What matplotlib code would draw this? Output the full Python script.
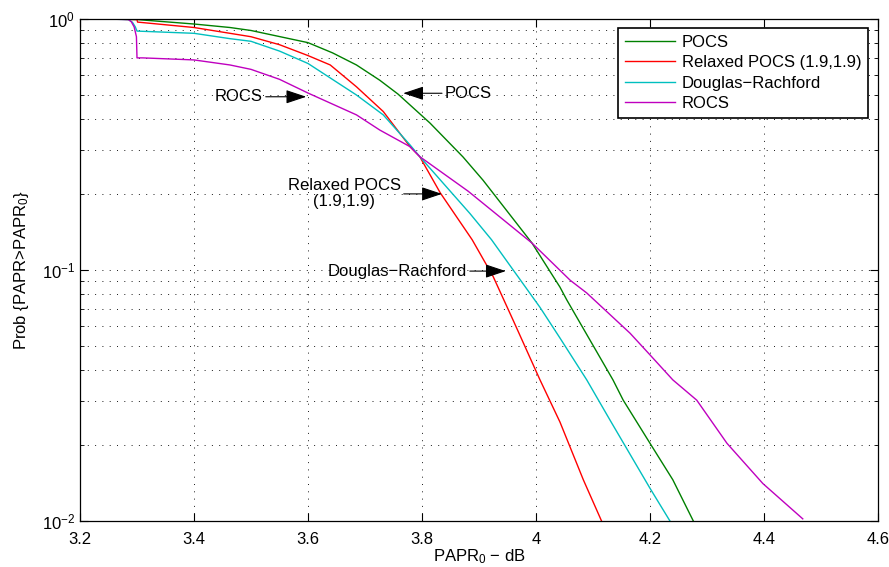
import numpy as np
import matplotlib
matplotlib.use("Agg")
import matplotlib.pyplot as plt
from matplotlib.ticker import LogLocator, FixedLocator

plt.rcParams['font.family'] = ['Liberation Sans', 'DejaVu Sans']
plt.rcParams['mathtext.fontset'] = 'custom'
plt.rcParams['mathtext.rm'] = 'Liberation Sans'
plt.rcParams['mathtext.it'] = 'Liberation Sans'

# --- data (PAPR0 in dB, CCDF) ---
pocs_x = [3.24, 3.30, 3.40, 3.463, 3.50, 3.60, 3.643, 3.685, 3.726, 3.758, 3.814,
          3.872, 3.907, 3.993, 4.042, 4.054, 4.135, 4.153, 4.20, 4.24, 4.276]
pocs_p = [1.0, 0.995, 0.955, 0.925, 0.90, 0.805, 0.733, 0.656, 0.57, 0.502, 0.385,
          0.282, 0.228, 0.128, 0.0855, 0.076, 0.0365, 0.0303, 0.0204, 0.0146, 0.0100]

rpocs_x = [3.24, 3.30, 3.301, 3.40, 3.463, 3.50, 3.55, 3.60, 3.639, 3.685, 3.732,
           3.779, 3.796, 3.832, 3.888, 3.925, 3.96, 4.007, 4.042, 4.083, 4.115]
rpocs_p = [1.0, 0.995, 0.972, 0.925, 0.877, 0.85, 0.79, 0.715, 0.656, 0.537, 0.428,
           0.31, 0.283, 0.203, 0.132, 0.094, 0.063, 0.0365, 0.0248, 0.0146, 0.0100]

dr_x = [3.24, 3.285, 3.292, 3.297, 3.30, 3.40, 3.463, 3.50, 3.55, 3.60, 3.685,
        3.732, 3.779, 3.796, 3.884, 3.922, 3.96, 4.007, 4.042, 4.089, 4.13, 4.20, 4.235]
dr_p = [1.0, 0.995, 0.97, 0.93, 0.895, 0.877, 0.835, 0.815, 0.745, 0.665, 0.498,
        0.415, 0.315, 0.283, 0.168, 0.132, 0.10, 0.071, 0.0536, 0.0365, 0.0252,
        0.0135, 0.0100]

rocs_x = [3.24, 3.285, 3.29, 3.295, 3.299, 3.30, 3.31, 3.40, 3.463, 3.50, 3.55,
          3.60, 3.685, 3.726, 3.779, 3.796, 3.881, 3.993, 4.06, 4.089, 4.165, 4.20,
          4.24, 4.282, 4.335, 4.398, 4.468]
rocs_p = [1.0, 0.995, 0.975, 0.93, 0.85, 0.70, 0.70, 0.687, 0.656, 0.63, 0.575,
          0.507, 0.415, 0.361, 0.31, 0.283, 0.206, 0.128, 0.091, 0.081, 0.056, 0.0459,
          0.0365, 0.0303, 0.0204, 0.0141, 0.0102]

labels = ['POCS', 'Relaxed POCS (1.9,1.9)', 'Douglas\u2212Rachford', 'ROCS']
colors = ['#008000', '#ff0000', '#00bfbf', '#bf00bf']
x_ticks = [3.2, 3.4, 3.6, 3.8, 4.0, 4.2, 4.4, 4.6]
x_tick_labels = ['3.2', '3.4', '3.6', '3.8', '4', '4.2', '4.4', '4.6']

fig = plt.figure(figsize=(8.89, 5.67), dpi=100)
ax = fig.add_axes([80 / 889, 46 / 567, 798 / 889, 502 / 567])

series = [(pocs_x, pocs_p), (rpocs_x, rpocs_p), (dr_x, dr_p), (rocs_x, rocs_p)]
for (xs, ps), lab, c in zip(series, labels, colors):
    ax.plot(xs, ps, color=c, lw=1.0, label=lab)

ax.set_yscale('log')
ax.set_xlim(3.2, 4.6)
ax.set_ylim(1e-2, 1)
ax.xaxis.set_major_locator(FixedLocator(x_ticks))
ax.set_xticklabels(x_tick_labels)
ax.yaxis.set_major_locator(LogLocator(base=10, numticks=5))
ax.yaxis.set_minor_locator(LogLocator(base=10, subs=np.arange(2, 10), numticks=20))
ax.yaxis.set_minor_formatter(plt.NullFormatter())

# MATLAB-like dotted grid
grid_kw = dict(color='0.15', lw=0.72, linestyle=(0, (1, 6.3)))
ax.grid(True, which='major', axis='both', **grid_kw)
ax.grid(True, which='minor', axis='y', **grid_kw)

ax.tick_params(which='both', direction='in', top=True, right=True, labelsize=12)
ax.tick_params(which='major', length=6, width=0.8)
ax.tick_params(which='minor', length=3, width=0.6)
ax.tick_params(axis='x', which='major', pad=8)
for s in ax.spines.values():
    s.set_linewidth(0.9)

ax.set_xlabel('PAPR$_0$ \u2212 dB', fontsize=12, labelpad=0)
ax.set_ylabel('Prob {PAPR>PAPR$_0$}', fontsize=12, labelpad=8)

leg = ax.legend(loc='upper right', bbox_to_anchor=(0.9875, 0.982), borderaxespad=0,
                fontsize=12, handlelength=3.0, handletextpad=0.4, labelspacing=0.33,
                borderpad=0.4, fancybox=False, framealpha=1, edgecolor='k')
leg.get_frame().set_linewidth(1.2)

arrow = dict(arrowstyle='-|>,head_length=0.9,head_width=0.3', color='k', lw=0.8,
             mutation_scale=14, shrinkA=0, shrinkB=0)
ax.annotate('ROCS', xy=(3.597, 0.49), xytext=(3.521, 0.49), ha='right', va='center',
            fontsize=12, arrowprops=arrow)
ax.annotate('POCS', xy=(3.767, 0.506), xytext=(3.840, 0.506), ha='left', va='center',
            fontsize=12, arrowprops=arrow)
ax.annotate('Relaxed POCS\n(1.9,1.9)', xy=(3.835, 0.201), xytext=(3.763, 0.201),
            ha='right', va='center', multialignment='center', fontsize=12,
            linespacing=1.1, arrowprops=arrow)
ax.annotate('Douglas\u2212Rachford', xy=(3.947, 0.099), xytext=(3.879, 0.099),
            ha='right', va='center', fontsize=12, arrowprops=arrow)

fig.savefig('out.png', dpi=100)
